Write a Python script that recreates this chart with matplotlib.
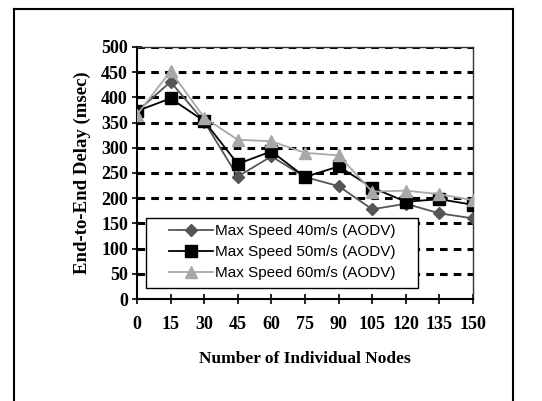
import numpy as np
import matplotlib.pyplot as plt
from matplotlib.lines import Line2D
from matplotlib.patches import Rectangle

# number of nodes
nodes = [0, 15, 30, 45, 60, 75, 90, 105, 120, 135, 150]
# end-to-end delay (msec)
delay_40 = [372, 431, 352, 243, 283, 242, 224, 178, 189, 170, 160]
delay_50 = [373, 398, 353, 268, 293, 242, 263, 221, 193, 198, 187]
delay_60 = [366, 452, 360, 316, 313, 290, 285, 213, 215, 208, 196]
labels = ["Max Speed 40m/s (AODV)", "Max Speed 50m/s (AODV)", "Max Speed 60m/s (AODV)"]

fig = plt.figure(figsize=(5.42, 4.01), dpi=100)
ax = fig.add_axes([137/542, 1-299/401, 336/542, 252/401])

# outer frame
for xs, ys in [([14/542, 513/542], [1-9/401, 1-9/401]),
               ([14/542, 14/542], [1-9/401, -0.01]),
               ([513/542, 513/542], [1-9/401, -0.01])]:
    fig.add_artist(Line2D(xs, ys, color="black", lw=1.5, transform=fig.transFigure))

# dashed grid
for v in range(50, 501, 50):
    ax.axhline(v, color="black", lw=2.2, ls=(0, (2.5, 2)), zorder=1)

ax.plot(nodes, delay_40, color="#555555", marker="D", ms=6, lw=1.3, label=labels[0], zorder=3)
ax.plot(nodes, delay_50, color="black", marker="s", ms=8, lw=1.3, label=labels[1], zorder=3)
ax.plot(nodes, delay_60, color="#a8a8a8", marker="^", ms=9, lw=1.3, label=labels[2], zorder=3)

ax.set_xlim(0, 150)
ax.set_ylim(0, 500)
ax.set_xticks(nodes)
ax.set_yticks(range(0, 501, 50))
ax.tick_params(direction="inout", length=7, width=1.2, labelsize=13, pad=3)
ax.tick_params(axis="x", pad=9)
for lab in ax.get_xticklabels() + ax.get_yticklabels():
    lab.set_fontfamily("Liberation Serif")
    lab.set_fontweight("bold")

for s in ["left", "bottom"]:
    ax.spines[s].set_linewidth(1.5)
for s in ["top", "right"]:
    ax.spines[s].set_linewidth(1.0)
    ax.spines[s].set_color("#333333")

ax.set_xlabel("Number of Individual Nodes", fontfamily="Liberation Serif",
              fontweight="bold", fontsize=12.5, labelpad=13)
ax.set_ylabel("End-to-End Delay (msec)", fontfamily="Liberation Serif",
              fontweight="bold", fontsize=13.5, labelpad=7)

# legend box (Excel style, wide padding)
ax.add_patch(Rectangle((9/336, 11/252), 272/336, 70/252, transform=ax.transAxes,
                       facecolor="white", edgecolor="black", lw=1.0, zorder=4))
leg = ax.legend(loc="center left", bbox_to_anchor=(32/336, 47/252), borderaxespad=0,
                prop={"family": "Liberation Sans", "size": 11}, frameon=False,
                handlelength=2.9, handletextpad=0.1, labelspacing=0.45, borderpad=0)
leg.set_zorder(5)

fig.savefig("out.png", dpi=100)
